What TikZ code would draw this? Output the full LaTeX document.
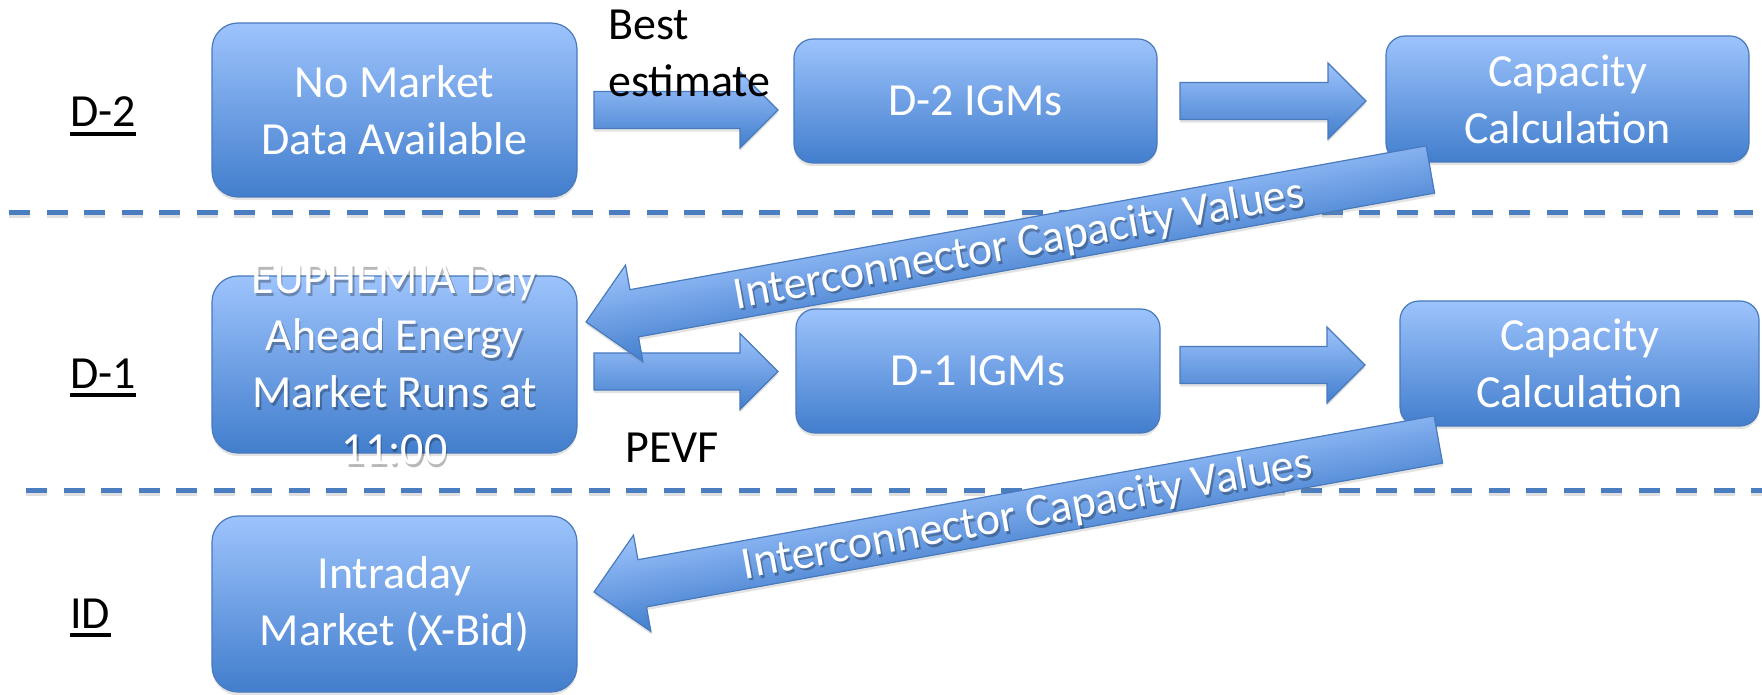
\documentclass[tikz,border=0pt]{standalone}
\usepackage{fontspec}
\setmainfont{Carlito}
\usetikzlibrary{calc,shadows}
\definecolor{boxtop}{RGB}{157,195,252}
\definecolor{boxbot}{RGB}{66,126,205}
\definecolor{edge}{RGB}{72,122,188}
\definecolor{dashc}{RGB}{74,126,193}
\tikzset{
  bigfont/.style={font=\fontsize{23pt}{28.5pt}\selectfont},
  box/.style={draw=edge, line width=0.6pt, top color=boxtop, bottom color=boxbot,
    inner sep=0pt, outer sep=0pt,
    drop shadow={shadow xshift=0pt, shadow yshift=-1.6pt, opacity=0.22}},
  boxtext/.style={bigfont, text=white, align=center, inner sep=0pt},
  tshadow/.style={bigfont, text=black, opacity=0.28, align=center, inner sep=0pt},
  blockarr/.style={draw=edge, line width=0.6pt, top color=boxtop, bottom color=boxbot,
    drop shadow={shadow xshift=0pt, shadow yshift=-1.6pt, opacity=0.22}},
  lbl/.style={bigfont, inner sep=0pt, text=black},
  sepline/.style={draw=dashc, line width=2.5pt, dash pattern=on 10.5pt off 8.25pt},
}
\begin{document}
\begin{tikzpicture}[x=0.5pt,y=-0.5pt]
\useasboundingbox (0,0) rectangle (1762,695);

% separators
\coordinate (s1a) at (9,213);  \coordinate (s1b) at (1753,213);
\coordinate (s2a) at (26,490); \coordinate (s2b) at (1762,490);
\draw[sepline, draw=black, opacity=0.12] ($(s1a)+(0,3)$) -- ($(s1b)+(0,3)$);
\draw[sepline, draw=black, opacity=0.12] ($(s2a)+(0,3)$) -- ($(s2b)+(0,3)$);
\draw[sepline] (s1a) -- (s1b);
\draw[sepline] (s2a) -- (s2b);

% row labels
\node[lbl, anchor=base west] (ld2) at (70,127) {D-2};
\node[lbl, anchor=base west] (ld1) at (70,388) {D-1};
\node[lbl, anchor=base west] (lid) at (70,628) {ID};
\foreach \n in {ld2,ld1,lid}
  \draw[line width=1.65pt] ($(\n.base west)+(0,7)$) -- ($(\n.base east)+(0,7)$);

% boxes
\node[box, minimum width=182.5pt, minimum height=87pt,   rounded corners=13pt] (b1) at (394.5,110) {};
\node[box, minimum width=181.5pt, minimum height=62pt,   rounded corners=9.5pt] (b2) at (975.5,101) {};
\node[box, minimum width=181.5pt, minimum height=63pt,   rounded corners=9.5pt] (b3) at (1567.5,99) {};
\node[box, minimum width=182.5pt, minimum height=88.5pt, rounded corners=13pt] (b4) at (394.5,364.5) {};
\node[box, minimum width=182pt,   minimum height=62pt,   rounded corners=9.5pt] (b5) at (978,371) {};
\node[box, minimum width=179.5pt, minimum height=62.5pt, rounded corners=9.5pt] (b6) at (1579.5,363.5) {};
\node[box, minimum width=182.5pt, minimum height=88pt,   rounded corners=13pt] (b7) at (394.5,604) {};

\node[boxtext] (t1) at (b1) {No Market\\Data Available};
\node[boxtext] (t2) at (b2) {D-2 IGMs};
\node[boxtext] (t3) at (b3) {Capacity\\Calculation};
\node[tshadow] at ($(b4)+(1.5,3)$) {EUPHEMIA Day\\Ahead Energy\\Market Runs at\\11:00};
\node[boxtext] (t4) at (b4) {EUPHEMIA Day\\Ahead Energy\\Market Runs at\\11:00};
\node[boxtext] (t5) at (b5) {D-1 IGMs};
\node[boxtext] (t6) at (b6) {Capacity\\Calculation};
\node[boxtext] (t7) at (b7) {Intraday\\Market (X-Bid)};

% horizontal block arrows
\coordinate (a1s) at (594,110);  \coordinate (a1e) at (778,110);
\coordinate (a2s) at (1180,101); \coordinate (a2e) at (1366,101);
\coordinate (a3s) at (594,371.5);\coordinate (a3e) at (778,371.5);
\coordinate (a4s) at (1180,365); \coordinate (a4e) at (1365,365);
\foreach \s/\e in {a1s/a1e,a2s/a2e,a3s/a3e,a4s/a4e}
  \path[blockarr] ($(\s)+(0,-18.5)$) -- ($(\e)+(-38,-18.5)$) -- ($(\e)+(-38,-38)$)
     -- (\e) -- ($(\e)+(-38,38)$) -- ($(\e)+(-38,18.5)$) -- ($(\s)+(0,18.5)$) -- cycle;

\node[lbl, anchor=north west, align=left] (best) at (608,9.5) {Best\\estimate};
\node[lbl, anchor=base west] (pevf) at (625,462) {PEVF};

% slanted block arrows
\coordinate (tip1) at (586,322);
\coordinate (tip2) at (594,592);
\foreach \t in {tip1,tip2}{
\begin{scope}[transform canvas={shift={(\t)}, rotate=10.24}]
  \path[blockarr] (0,0) -- (49,-49) -- (49,-24) -- (858,-24) -- (858,24) -- (49,24) -- (49,49) -- cycle;
  \node[tshadow, anchor=base] at (441.5,17) {Interconnector Capacity Values};
  \node[boxtext, anchor=base] at (440,14) {Interconnector Capacity Values};
\end{scope}
}
\end{tikzpicture}
\end{document}
